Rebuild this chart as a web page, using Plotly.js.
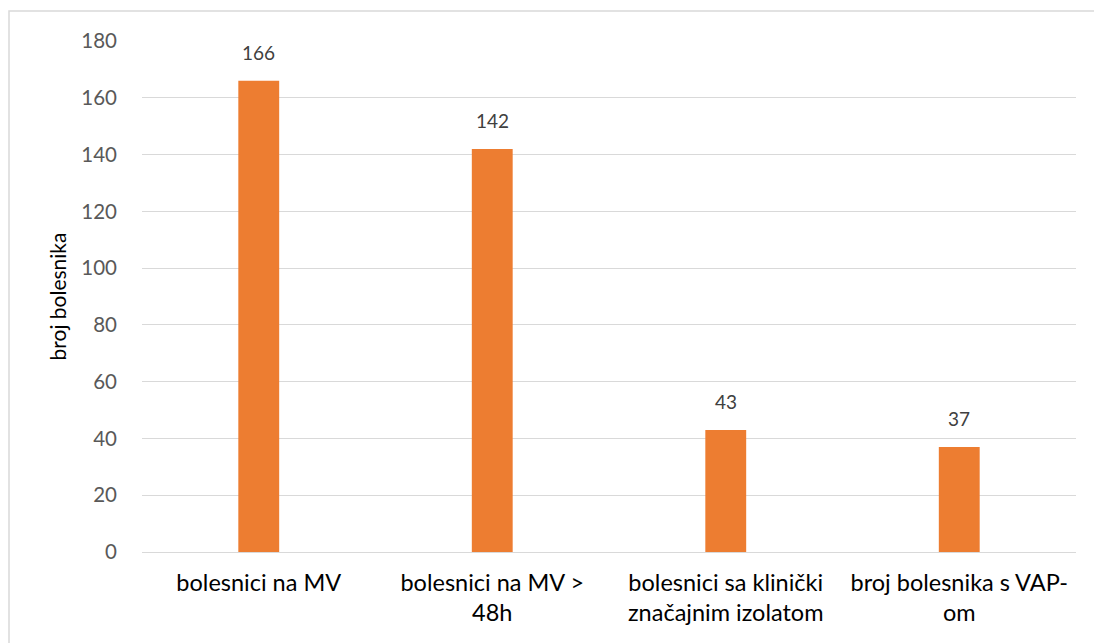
<!DOCTYPE html>
<html>
<head>
<meta charset="utf-8">
<script src="https://cdn.plot.ly/plotly-3.0.1.min.js"></script>
<style>
html,body{margin:0;padding:0;background:#fff;overflow:hidden;}
#chart{width:1094px;height:643px;}
</style>
</head>
<body>
<div id="chart"></div>
<script>
const categories = ["bolesnici na MV", "bolesnici na MV ><br>48h", "bolesnici sa klinički<br>značajnim izolatom", "broj bolesnika s VAP-<br>om"];
const values = [166, 142, 43, 37];
const yTicks = [0, 20, 40, 60, 80, 100, 120, 140, 160, 180];
const yTitle = "broj bolesnika";

const L = 142, R = 18, T = 41, B = 91;
const W = 1094, H = 643;
const pw = W - L - R, ph = H - T - B;
function px(x){ return (x - L) / pw; }
function py(y){ return (H - B - y) / ph; }

const FONT = 'Lato, "Open Sans", sans-serif';

const trace = {
  type: 'bar',
  x: categories,
  y: values,
  marker: {color: '#ED7D31'},
  hoverinfo: 'none'
};

const annotations = categories.map((c, i) => ({
  x: c, y: values[i], xref: 'x', yref: 'y',
  text: String(values[i]), showarrow: false,
  yanchor: 'middle', yshift: 28,
  font: {family: FONT, size: 19, color: '#404040'}
}));

const layout = {
  width: W, height: H,
  margin: {l: L, r: R, t: T, b: B},
  paper_bgcolor: '#fff',
  plot_bgcolor: '#fff',
  bargap: 0.825,
  showlegend: false,
  font: {family: FONT},
  xaxis: {
    showgrid: false,
    showline: false,
    zeroline: false,
    ticks: '',
    ticklabelstandoff: 14,
    tickfont: {size: 23.5, color: '#000'},
    automargin: false
  },
  yaxis: {
    range: [0, 180],
    tickvals: yTicks,
    ticktext: yTicks.map(String),
    showgrid: true,
    gridcolor: '#d9d9d9',
    gridwidth: 1,
    zeroline: true,
    zerolinecolor: '#d9d9d9',
    zerolinewidth: 1,
    showline: false,
    ticks: '',
    ticklabelstandoff: 24,
    tickfont: {size: 20.5, color: '#595959'},
    title: {text: yTitle, font: {size: 21, color: '#000'}, standoff: 8},
    automargin: false
  },
  annotations: annotations,
  shapes: [{
    type: 'rect', xref: 'paper', yref: 'paper', layer: 'below',
    x0: px(9), x1: px(W + 20), y0: py(H + 20), y1: py(11),
    line: {color: '#d9d9d9', width: 1.5},
    fillcolor: 'rgba(0,0,0,0)'
  }]
};

Plotly.newPlot('chart', [trace], layout, {displayModeBar: false, staticPlot: true});
</script>
</body>
</html>
